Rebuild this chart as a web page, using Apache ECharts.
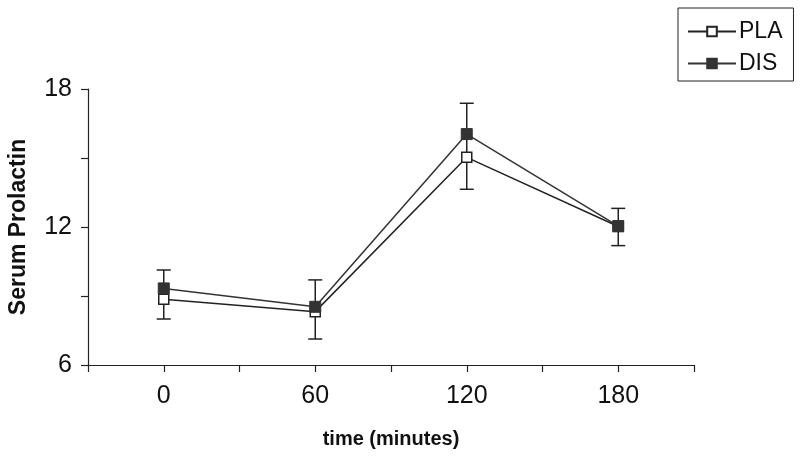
<!doctype html>
<html>
<head>
<meta charset="utf-8">
<script src="https://cdn.jsdelivr.net/npm/echarts@6/dist/echarts.min.js"></script>
</head>
<body style="margin:0;background:#fff;">
<div id="chart" style="width:800px;height:458px;"></div>
<script>
// time points (minutes)
const times = [0, 60, 120, 180];
const xTickLabels = [0, 60, 120, 180];
const yTickLabels = [6, 12, 18];

// serum prolactin means
const pla = [8.86, 8.32, 15.03, 12.02];
const dis = [9.33, 8.53, 16.04, 12.04];

// error bar ends
const errHigh = [10.13, 9.70, 17.38, 12.81];
const errLow = [8.0, 7.13, 13.64, 11.19];

const ink = '#222';
const font = "'Liberation Sans', Arial, sans-serif";

const chart = echarts.init(document.getElementById('chart'));

chart.setOption({
  animation: false,
  backgroundColor: '#fff',
  grid: { left: 88, right: 106, top: 89, bottom: 93, containLabel: false, outerBoundsMode: 'none' },
  legend: {
    left: 678,
    top: 8,
    orient: 'vertical',
    borderColor: ink,
    borderWidth: 1,
    borderRadius: 0,
    padding: [12, 11, 6, 9],
    itemGap: 9,
    itemWidth: 48,
    itemHeight: 12,
    data: ['PLA', 'DIS'],
    textStyle: { fontFamily: font, fontSize: 23, lineHeight: 22, color: '#111', padding: [0, 0, 0, -2] }
  },
  xAxis: {
    type: 'value',
    min: -30,
    max: 210,
    interval: 30,
    name: 'time (minutes)',
    nameLocation: 'middle',
    nameGap: 64,
    nameTextStyle: { fontFamily: font, fontSize: 20, fontWeight: 'bold', color: '#111' },
    splitLine: { show: false },
    axisLine: { onZero: false, lineStyle: { color: ink, width: 1.2 } },
    axisTick: { length: 7, lineStyle: { color: ink, width: 1.2 } },
    axisLabel: {
      fontFamily: font,
      fontSize: 25,
      color: '#111',
      margin: 19,
      formatter: v => (xTickLabels.includes(v) ? String(v) : '')
    }
  },
  yAxis: {
    type: 'value',
    min: 6,
    max: 18,
    interval: 3,
    name: 'Serum Prolactin',
    nameLocation: 'middle',
    nameGap: 58,
    nameTextStyle: { fontFamily: font, fontSize: 23, fontWeight: 'bold', color: '#111' },
    splitLine: { show: false },
    axisLine: { show: true, onZero: false, lineStyle: { color: ink, width: 1.2 } },
    axisTick: { show: true, length: 7, lineStyle: { color: ink, width: 1.2 } },
    axisLabel: {
      fontFamily: font,
      fontSize: 25,
      color: '#111',
      margin: 16,
      formatter: v => (yTickLabels.includes(v) ? String(v) : '')
    }
  },
  series: [
    {
      type: 'custom',
      name: 'err',
      z: 1,
      silent: true,
      data: times.map((t, i) => [t, errLow[i], errHigh[i]]),
      renderItem: (params, api) => {
        const lo = api.coord([api.value(0), api.value(1)]);
        const hi = api.coord([api.value(0), api.value(2)]);
        const w = 7;
        const style = { stroke: ink, lineWidth: 1.5 };
        return {
          type: 'group',
          children: [
            { type: 'line', shape: { x1: hi[0], y1: hi[1], x2: lo[0], y2: lo[1] }, style },
            { type: 'line', shape: { x1: hi[0] - w, y1: hi[1], x2: hi[0] + w, y2: hi[1] }, style },
            { type: 'line', shape: { x1: lo[0] - w, y1: lo[1], x2: lo[0] + w, y2: lo[1] }, style }
          ]
        };
      }
    },
    {
      type: 'line',
      name: 'PLA',
      z: 3,
      data: times.map((t, i) => [t, pla[i]]),
      symbol: 'rect',
      symbolSize: 10,
      lineStyle: { color: ink, width: 1.5 },
      itemStyle: { color: '#fff', borderColor: ink, borderWidth: 1.5 }
    },
    {
      type: 'line',
      name: 'DIS',
      z: 4,
      data: times.map((t, i) => [t, dis[i]]),
      symbol: 'rect',
      symbolSize: 11,
      lineStyle: { color: '#333', width: 1.5 },
      itemStyle: { color: '#333', borderColor: '#333', borderWidth: 1 }
    }
  ]
});
</script>
</body>
</html>
